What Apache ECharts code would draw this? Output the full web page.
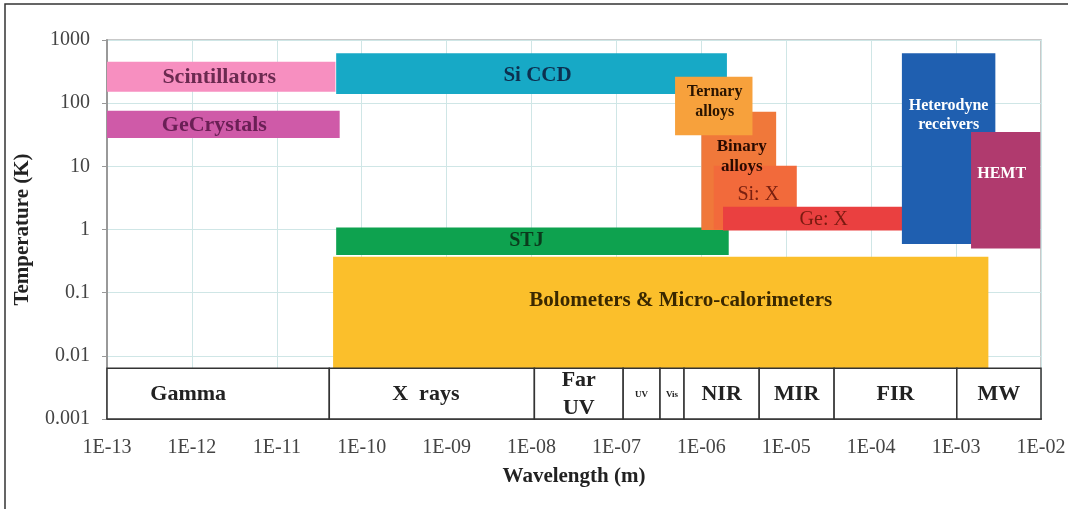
<!DOCTYPE html>
<html>
<head>
<meta charset="utf-8">
<title>Detectors: wavelength vs temperature</title>
<script src="https://cdn.jsdelivr.net/npm/echarts@6/dist/echarts.min.js"></script>
<style>
  html, body { margin: 0; padding: 0; background: #fff; }
  #chart { width: 1068px; height: 509px; }
</style>
</head>
<body>
<div id="chart"></div>
<script>
// detector boxes, drawn in this order (later ones on top)
var detectors = ['Bolometers & Micro-calorimeters', 'STJ', 'Si CCD', 'Scintillators', 'GeCrystals',
  'Binary\nalloys', 'Ternary\nalloys', 'Si: X', 'Ge: X', 'Heterodyne\nreceivers', 'HEMT']
var waveMin = [4.6e-11, 5e-11, 5e-11, 1e-13, 1e-13, 1e-6, 4.9e-7, 1.4e-6, 1.8e-6, 2.3e-4, 1.5e-3]   // m
var waveMax = [2.4e-3, 2.1e-6, 2e-6, 4.9e-11, 5.5e-11, 7.6e-6, 4e-6, 1.33e-5, 2.6e-4, 2.9e-3, 9.8e-3]
var tempMin = [0.00635, 0.395, 140, 152, 28, 0.98, 31, 1, 0.96, 0.59, 0.5]                      // K
var tempMax = [0.37, 1.08, 615, 454, 76, 73, 262, 10.2, 2.3, 615, 35]

// spectral bands along the bottom
var bands = ['Gamma', 'X  rays', 'Far\nUV', 'UV', 'Vis', 'NIR', 'MIR', 'FIR', 'MW']
var bandEdges = [1e-13, 4.15e-11, 1.08e-8, 1.2e-7, 3.26e-7, 6.25e-7, 4.8e-6, 3.66e-5, 1.02e-3, 1e-2]
var bandTempLow = 0.001
var bandTempHigh = 0.00635

var xTicks = ['1E-13', '1E-12', '1E-11', '1E-10', '1E-09', '1E-08', '1E-07', '1E-06', '1E-05', '1E-04', '1E-03', '1E-02']
var yTicks = ['0.001', '0.01', '0.1', '1', '10', '100', '1000']

var FONT = "'Liberation Serif', 'Times New Roman', serif"

// look of each detector box: fill, text colour, font size, weight, label shift (px), line height
var boxStyle = {
  'Bolometers & Micro-calorimeters': { fill: '#fbbf2b', text: '#3a2800', size: 21, dx: 20, dy: -12 },
  'STJ':                 { fill: '#0ea24f', text: '#0b3a1c', size: 20, dx: -6, dy: 0 },
  'Si CCD':              { fill: '#17a9c6', text: '#0d2f4f', size: 21, dx: 6, dy: 2 },
  'Scintillators':       { fill: '#f78fc0', text: '#6b2a50', size: 22, dx: -2, dy: 1 },
  'GeCrystals':          { fill: '#cf5aa8', text: '#6a1f55', size: 22, dx: -9, dy: 1 },
  'Binary\nalloys':      { fill: '#f0783a', text: '#2a0a00', size: 17, dx: 3, dy: -14, lh: 20 },
  'Ternary\nalloys':     { fill: '#f7a13c', text: '#2a1400', size: 16, dx: 1, dy: -4, lh: 20 },
  'Si: X':               { fill: '#f26a3b', text: '#7a2010', size: 20, dx: 3, dy: -3, weight: 'normal' },
  'Ge: X':               { fill: '#ea4040', text: '#7a1a10', size: 20, dx: 9, dy: 1, weight: 'normal' },
  'Heterodyne\nreceivers': { fill: '#1f5fb0', text: '#ffffff', size: 16, dx: 0, dy: -33, lh: 19 },
  'HEMT':                { fill: '#b03a6e', text: '#ffffff', size: 16, dx: -4, dy: -16 }
}
var bandStyle = {
  'Gamma': { size: 22, dx: -30 },
  'X  rays': { size: 22, dx: -6 },
  'Far\nUV': { size: 22, dx: 0, lh: 28 },
  'UV': { size: 9, dx: 0 },
  'Vis': { size: 9, dx: 0 }
}

var boxData = detectors.map(function (name, i) {
  return [waveMin[i], waveMax[i], tempMin[i], tempMax[i], i]
})
var bandData = bands.map(function (name, i) {
  return [bandEdges[i], bandEdges[i + 1], bandTempLow, bandTempHigh, i]
})

function rectOf(api) {
  var p0 = api.coord([api.value(0), api.value(3)])
  var p1 = api.coord([api.value(1), api.value(2)])
  return { x: p0[0], y: p0[1], width: p1[0] - p0[0], height: p1[1] - p0[1] }
}

function renderBox(params, api) {
  var r = rectOf(api)
  var name = detectors[api.value(4)]
  var s = boxStyle[name]
  return {
    type: 'group',
    children: [{
      type: 'rect',
      shape: r,
      z2: api.value(4),
      style: { fill: s.fill }
    }, {
      // labels sit above every box
      type: 'text',
      z2: 100,
      x: r.x + r.width / 2 + s.dx,
      y: r.y + r.height / 2 + s.dy,
      style: {
        text: name,
        fill: s.text,
        font: (s.weight || 'bold') + ' ' + s.size + 'px ' + FONT,
        lineHeight: s.lh || s.size,
        align: 'center',
        verticalAlign: 'middle'
      }
    }]
  }
}

function renderBand(params, api) {
  var r = rectOf(api)
  var name = bands[api.value(4)]
  var s = bandStyle[name] || { size: 22, dx: 0 }
  return {
    type: 'group',
    children: [{
      type: 'rect',
      shape: r,
      style: { fill: '#ffffff', stroke: '#333333', lineWidth: 1.5 }
    }, {
      type: 'text',
      x: r.x + r.width / 2 + s.dx,
      y: r.y + r.height / 2 + 1,
      style: {
        text: name,
        fill: '#222222',
        font: 'bold ' + s.size + 'px ' + FONT,
        lineHeight: s.lh || s.size,
        align: 'center',
        verticalAlign: 'middle'
      }
    }]
  }
}

function expOf(v) {
  return Math.round(Math.log(v) / Math.LN10)
}

var chart = echarts.init(document.getElementById('chart'))
var option = {
  backgroundColor: '#ffffff',
  animation: false,
  textStyle: { fontFamily: FONT },
  grid: {
    left: 107,
    right: 27,
    top: 40,
    bottom: 90,
    show: true,
    borderColor: '#b8b8b8',
    borderWidth: 1.5,
    outerBoundsMode: 'none'
  },
  graphic: [{
    type: 'polyline',
    silent: true,
    shape: { points: [[5, 509], [5, 4], [1068, 4]] },
    style: { stroke: '#333333', lineWidth: 1.5, fill: null }
  }],
  xAxis: {
    type: 'log',
    logBase: 10,
    min: 1e-13,
    max: 1e-2,
    interval: 1,
    name: 'Wavelength (m)',
    nameLocation: 'middle',
    nameGap: 47,
    nameTextStyle: { fontFamily: FONT, fontWeight: 'bold', fontSize: 21, color: '#222' },
    axisLine: { lineStyle: { color: '#555', width: 2 } },
    axisTick: { show: false },
    axisLabel: {
      margin: 19,
      fontFamily: FONT,
      fontSize: 20,
      color: '#444',
      formatter: function (v) {
        return xTicks[expOf(v) + 13]
      }
    },
    splitLine: { show: true, lineStyle: { color: '#cfe6e6', width: 1 } }
  },
  yAxis: {
    type: 'log',
    logBase: 10,
    min: 0.001,
    max: 1000,
    interval: 1,
    name: 'Temperature (K)',
    nameLocation: 'middle',
    nameGap: 74,
    nameRotate: 90,
    nameTextStyle: { fontFamily: FONT, fontWeight: 'bold', fontSize: 21, color: '#222' },
    axisLine: { lineStyle: { color: '#999', width: 2 } },
    axisTick: { show: true, length: 5, lineStyle: { color: '#999' } },
    axisLabel: {
      margin: 17,
      fontFamily: FONT,
      fontSize: 20,
      color: '#444',
      formatter: function (v) {
        return yTicks[expOf(v) + 3]
      }
    },
    splitLine: { show: true, lineStyle: { color: '#cfe6e6', width: 1 } }
  },
  series: [{
    type: 'custom',
    name: 'detectors',
    renderItem: renderBox,
    encode: { x: [0, 1], y: [2, 3] },
    data: boxData,
    z: 3
  }, {
    type: 'custom',
    name: 'bands',
    renderItem: renderBand,
    encode: { x: [0, 1], y: [2, 3] },
    data: bandData,
    z: 4
  }]
}
chart.setOption(option)
</script>
</body>
</html>
